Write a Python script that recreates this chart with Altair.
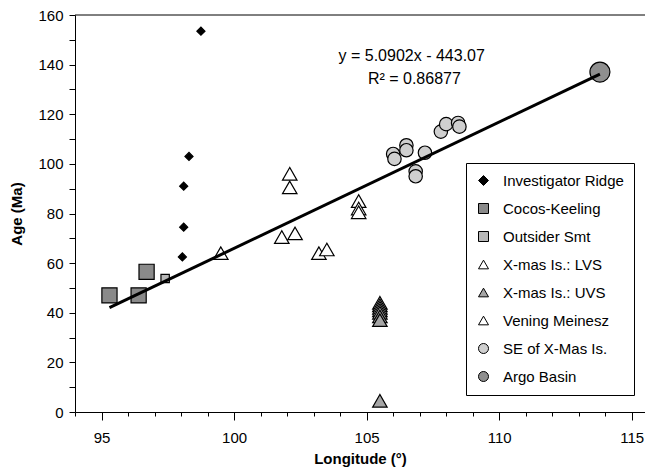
import altair as alt
import pandas as pd

series_names = ["Investigator Ridge", "Cocos-Keeling", "Outsider Smt", "X-mas Is.: LVS",
                "X-mas Is.: UVS", "Vening Meinesz", "SE of X-Mas Is.", "Argo Basin"]
shapes = ["diamond", "square", "square", "triangle-up", "triangle-up", "triangle-up", "circle", "circle"]
fills = ["#000000", "#8a8a8a", "#b8b8b8", "#ffffff", "#a6a6a6", "#ffffff", "#cfcfcf", "#8f8f8f"]
sizes = [65, 230, 70, 210, 210, 210, 180, 400]

ir_lon = [98.75, 98.3, 98.1, 98.1, 98.05]
ir_age = [153.5, 103, 91, 74.5, 62.5]
ck_lon = [95.3, 96.4, 96.7]
ck_age = [47, 47, 56.5]
os_lon = [97.4]
os_age = [53.8]
lvs_lon = [105.5, 105.5, 105.5, 105.5]
lvs_age = [44, 43, 42, 41]
uvs_lon = [105.5, 105.5, 105.5, 105.5]
uvs_age = [40, 38.5, 37, 4.5]
vm_lon = [99.5, 101.8, 102.3, 102.1, 102.1, 103.2, 103.5, 104.7, 104.7, 104.7]
vm_age = [64, 70.5, 72, 96, 90.5, 64, 65.5, 85, 82, 80.5]
se_lon = [106.0, 106.05, 106.5, 106.5, 106.85, 106.85, 107.2, 107.8, 108.0, 108.45, 108.5]
se_age = [104, 102, 107.5, 105.5, 97, 95, 104.5, 113, 116, 116.5, 115]
ab_lon = [113.8]
ab_age = [137]

trend_slope = 5.0902
trend_intercept = -443.07
eq_text = ["y = 5.0902x - 443.07", "R² = 0.86877"]

x_ticks = list(range(94, 116))
y_ticks = list(range(0, 161, 10))

groups = [(ir_lon, ir_age), (ck_lon, ck_age), (os_lon, os_age), (lvs_lon, lvs_age),
          (uvs_lon, uvs_age), (vm_lon, vm_age), (se_lon, se_age), (ab_lon, ab_age)]
rows = []
for name, sz, (lo, ag) in zip(series_names, sizes, groups):
    for a, b in zip(lo, ag):
        rows.append({"series": name, "lon": a, "age": b, "sz": sz})
df = pd.DataFrame(rows)

W, H = 570, 397
FONT = "Liberation Sans"

xscale = alt.Scale(domain=[94, 115.5], nice=False, zero=False)
yscale = alt.Scale(domain=[0, 160], nice=False)

xaxis = alt.Axis(values=x_ticks, title="Longitude (°)",
                 labelExpr="datum.value % 5 === 0 ? datum.label : ''",
                 tickSize={"condition": {"test": "datum.value % 5 === 0", "value": 8}, "value": 4},
                 labelOverlap=False, labelPadding=10, titlePadding=6, grid=False)
yaxis = alt.Axis(values=y_ticks, title="Age (Ma)",
                 labelExpr="datum.value % 20 === 0 ? datum.label : ''",
                 labelOverlap=False, tickSize=6, labelPadding=6, titlePadding=13, grid=False)

X = alt.X("lon:Q", scale=xscale, axis=xaxis)
Y = alt.Y("age:Q", scale=yscale, axis=yaxis)

legend = alt.Legend(title=None, orient="none", legendX=391, legendY=148,
                    strokeColor="black", padding=10, labelFontSize=15,
                    labelFont=FONT, symbolSize=100, rowPadding=12,
                    labelOffset=12, symbolStrokeWidth=1, labelLimit=300, fillColor="white")

points = alt.Chart(df).mark_point(filled=True, strokeWidth=1.2, opacity=1).encode(
    x=X, y=Y,
    shape=alt.Shape("series:N", scale=alt.Scale(domain=series_names, range=shapes), legend=legend),
    fill=alt.Fill("series:N", scale=alt.Scale(domain=series_names, range=fills)),
    stroke=alt.Stroke("series:N", scale=alt.Scale(domain=series_names, range=["black"] * len(series_names))),
    size=alt.Size("sz:Q", scale=None, legend=None),
)

line_df = pd.DataFrame({"lon": [df["lon"].min(), df["lon"].max()]})
trend = alt.Chart(line_df).mark_line(color="black", strokeWidth=3).transform_calculate(
    age=f"{trend_slope}*datum.lon + ({trend_intercept})"
).encode(x=X, y=Y)

txt_df = pd.DataFrame({"t": eq_text, "lon": [106.7, 106.8], "age": [143.5, 134.2]})
txt = alt.Chart(txt_df).mark_text(font=FONT, fontSize=16, color="black").encode(
    x=X, y=Y, text="t:N")

border = alt.Chart(pd.DataFrame({"a": [0]})).mark_rule(color="black", strokeWidth=1).encode(
    x=alt.value(0), x2=alt.value(W), y=alt.value(0))

chart = alt.layer(points, trend, txt, border).properties(
    width=W, height=H, padding={"left": 67, "top": 7, "right": 0, "bottom": 56},
    autosize=alt.AutoSizeParams(type="none")
).configure_view(stroke=None).configure_axis(
    labelFont=FONT, labelFontSize=15, titleFont=FONT, titleFontSize=15, titleFontWeight="bold",
    domainColor="black", tickColor="black", labelColor="black", titleColor="black"
)

chart.save("out.html", embed_options={"renderer": "svg", "actions": False})
